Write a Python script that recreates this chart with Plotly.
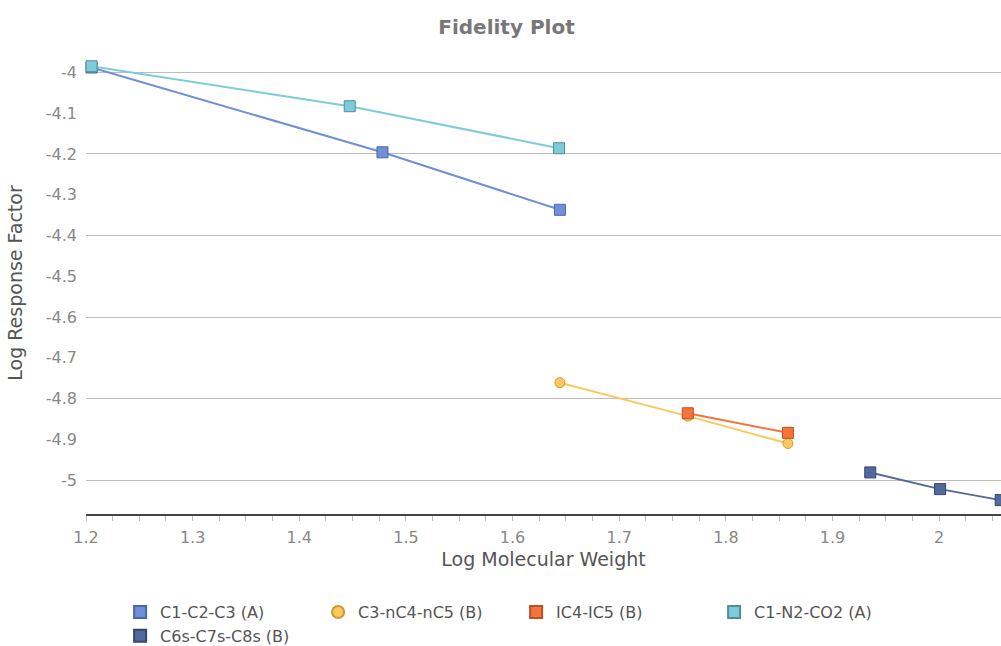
import plotly.graph_objects as go

# Data
series_names = ["C1-C2-C3 (A)", "C3-nC4-nC5 (B)", "IC4-IC5 (B)", "C1-N2-CO2 (A)", "C6s-C7s-C8s (B)"]
c1c2c3_x = [1.2052, 1.4780, 1.6444]
c1c2c3_y = [-3.988, -4.196, -4.337]
c3c4c5_x = [1.6444, 1.7643, 1.8582]
c3c4c5_y = [-4.761, -4.843, -4.910]
ic4ic5_x = [1.7643, 1.8582]
ic4ic5_y = [-4.836, -4.884]
c1n2co2_x = [1.2052, 1.4473, 1.6436]
c1n2co2_y = [-3.985, -4.083, -4.186]
c6c7c8_x = [1.9354, 2.0009, 2.0577]
c6c7c8_y = [-4.981, -5.022, -5.049]

x_tick_vals = [1.2, 1.3, 1.4, 1.5, 1.6, 1.7, 1.8, 1.9, 2.0]
x_tick_text = ["1.2", "1.3", "1.4", "1.5", "1.6", "1.7", "1.8", "1.9", "2"]
y_tick_vals = [-4.0, -4.1, -4.2, -4.3, -4.4, -4.5, -4.6, -4.7, -4.8, -4.9, -5.0]
y_tick_text = ["-4", "-4.1", "-4.2", "-4.3", "-4.4", "-4.5", "-4.6", "-4.7", "-4.8", "-4.9", "-5"]

styles = [
    dict(color="#6f8fd8", border="#4a64a8", symbol="square"),
    dict(color="#fbc95e", border="#c99a30", symbol="circle"),
    dict(color="#f6733a", border="#b9502a", symbol="square"),
    dict(color="#7ecbd9", border="#4f8e9a", symbol="square"),
    dict(color="#52699b", border="#34466e", symbol="square"),
]
xs = [c1c2c3_x, c3c4c5_x, ic4ic5_x, c1n2co2_x, c6c7c8_x]
ys = [c1c2c3_y, c3c4c5_y, ic4ic5_y, c1n2co2_y, c6c7c8_y]

FONT = "DejaVu Sans"
yrange = [-5.083, -3.95]
xrange = [1.2, 2.058]

fig = go.Figure()
for name, x, y, st in zip(series_names, xs, ys, styles):
    fig.add_trace(go.Scatter(
        x=x, y=y, name=name, mode="lines+markers", showlegend=False,
        line=dict(color=st["color"], width=2),
        marker=dict(symbol=st["symbol"], size=11 if st["symbol"] == "square" else 10,
                    color=st["color"], line=dict(color=st["border"], width=1)),
        cliponaxis=False,
    ))

# legend entries (marker only)
for name, st in zip(series_names, styles):
    fig.add_trace(go.Scatter(
        x=[None], y=[None], name=name, mode="markers", showlegend=True,
        marker=dict(symbol=st["symbol"], size=10 if st["symbol"] == "square" else 9,
                    color=st["color"], line=dict(color=st["border"], width=1)),
    ))

# invisible trace on overlay axis to hold the 0.2 gridlines
fig.add_trace(go.Scatter(x=[xrange[0]], y=[yrange[0]], yaxis="y2", mode="markers",
                         marker=dict(opacity=0), showlegend=False, hoverinfo="skip"))

fig.update_layout(
    width=1001, height=646,
    paper_bgcolor="white", plot_bgcolor="white",
    margin=dict(l=86, r=0, t=52, b=132),
    font=dict(family=FONT, color="#888888", size=16),
    title=dict(text="<b>Fidelity Plot</b>", x=0.506, xanchor="center", y=0.958, yanchor="middle",
               font=dict(family=FONT, size=20, color="#777777")),
    showlegend=True,
    legend=dict(orientation="h", xref="container", yref="container",
                x=0.12, xanchor="left", y=0.034, yanchor="middle",
                font=dict(family=FONT, size=16, color="#555555"),
                entrywidth=153, tracegroupgap=0, itemsizing="constant"),
    xaxis=dict(
        range=xrange, tickvals=x_tick_vals, ticktext=x_tick_text,
        showgrid=False, zeroline=False,
        showline=True, linecolor="#444444", linewidth=2,
        ticks="outside", ticklen=5, tickcolor="#bbbbbb", tickwidth=1,
        minor=dict(dtick=0.025, tick0=1.2, ticks="outside", ticklen=5, tickcolor="#bbbbbb"),
        tickfont=dict(size=16, color="#888888"),
        ticklabelstandoff=3,
        title=dict(text="Log Molecular Weight", font=dict(size=19, color="#555555"), standoff=6),
    ),
    yaxis=dict(
        range=yrange, tickvals=y_tick_vals, ticktext=y_tick_text,
        showgrid=False, zeroline=False, showline=False, ticks="",
        tickfont=dict(size=16, color="#888888"),
        ticklabelstandoff=8,
        title=dict(text="Log Response Factor", font=dict(size=19, color="#555555"), standoff=18),
    ),
    yaxis2=dict(
        range=yrange, overlaying="y", side="left", dtick=0.2, tick0=-5.0,
        showgrid=True, gridcolor="#bdbdbd", gridwidth=1,
        showticklabels=False, zeroline=False, showline=False, ticks="",
    ),
)
fig.update_layout(yaxis2_layer="below traces")

fig.write_html("out.html")
